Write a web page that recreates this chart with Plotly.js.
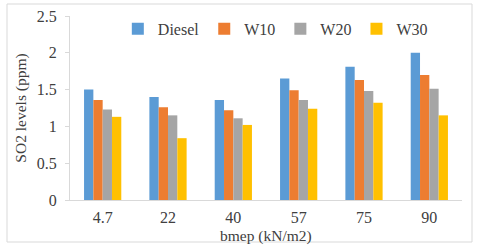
<!DOCTYPE html>
<html><head><meta charset="utf-8">
<script src="https://cdn.plot.ly/plotly-3.0.1.min.js"></script>
<style>html,body{margin:0;padding:0;background:#fff;}#chart{width:480px;height:248px;}</style>
</head><body><div id="chart"></div>
<script>
const categories = ["4.7", "22", "40", "57", "75", "90"];
const diesel = [1.50, 1.40, 1.36, 1.65, 1.81, 2.00];
const w10 = [1.36, 1.26, 1.22, 1.49, 1.63, 1.70];
const w20 = [1.23, 1.15, 1.11, 1.36, 1.48, 1.51];
const w30 = [1.13, 0.84, 1.02, 1.24, 1.32, 1.15];
const seriesNames = ["Diesel", "W10", "W20", "W30"];
const seriesColors = ["#5B9BD5", "#ED7D31", "#A5A5A5", "#FFC000"];
const seriesData = [diesel, w10, w20, w30];
const xTitle = "bmep (kN/m2)";
const yTitle = "SO2 levels (ppm)";

const traces = seriesData.map((d, i) => ({
  type: "bar", name: seriesNames[i], x: categories, y: d,
  marker: {color: seriesColors[i]}, hoverinfo: "skip"
}));
const font = {family: "Liberation Serif, Times New Roman, serif", color: "#404040"};
const layout = {
  width: 480, height: 248,
  margin: {l: 70, r: 18, t: 16, b: 48},
  paper_bgcolor: "#fff", plot_bgcolor: "#fff",
  font: Object.assign({size: 16}, font),
  barmode: "group", bargap: 0.43, bargroupgap: 0,
  showlegend: true,
  legend: {orientation: "h", x: 0.122, y: 0.93, xanchor: "left", yanchor: "middle",
    font: Object.assign({size: 16}, font), bgcolor: "rgba(0,0,0,0)", traceorder: "normal"},
  xaxis: {type: "category", showline: true, linecolor: "#d9d9d9", linewidth: 1,
    ticks: "", showgrid: false, tickfont: Object.assign({size: 16}, font), ticklabelstandoff: 3},
  yaxis: {range: [0, 2.5], dtick: 0.5, showline: true, linecolor: "#d9d9d9", linewidth: 1,
    ticks: "outside", ticklen: 4, tickcolor: "#d9d9d9", showgrid: false, zeroline: false,
    tickfont: Object.assign({size: 16}, font), ticklabelstandoff: 5,
    title: {text: yTitle, font: Object.assign({size: 15.5}, font), standoff: 6}},
  annotations: [{text: xTitle, xref: "paper", yref: "paper", x: 0.5, y: (200 - 236) / 184,
    xanchor: "center", yanchor: "middle", showarrow: false, font: Object.assign({size: 15.5}, font)}],
  shapes: [{type: "rect", xref: "paper", yref: "paper",
    x0: (7 - 70) / 392, x1: (472 - 70) / 392, y0: (200 - 242) / 184, y1: (200 - 4) / 184,
    line: {color: "#d9d9d9", width: 1}, fillcolor: "rgba(0,0,0,0)"}]
};
Plotly.newPlot("chart", traces, layout, {displayModeBar: false, staticPlot: true});
</script></body></html>
